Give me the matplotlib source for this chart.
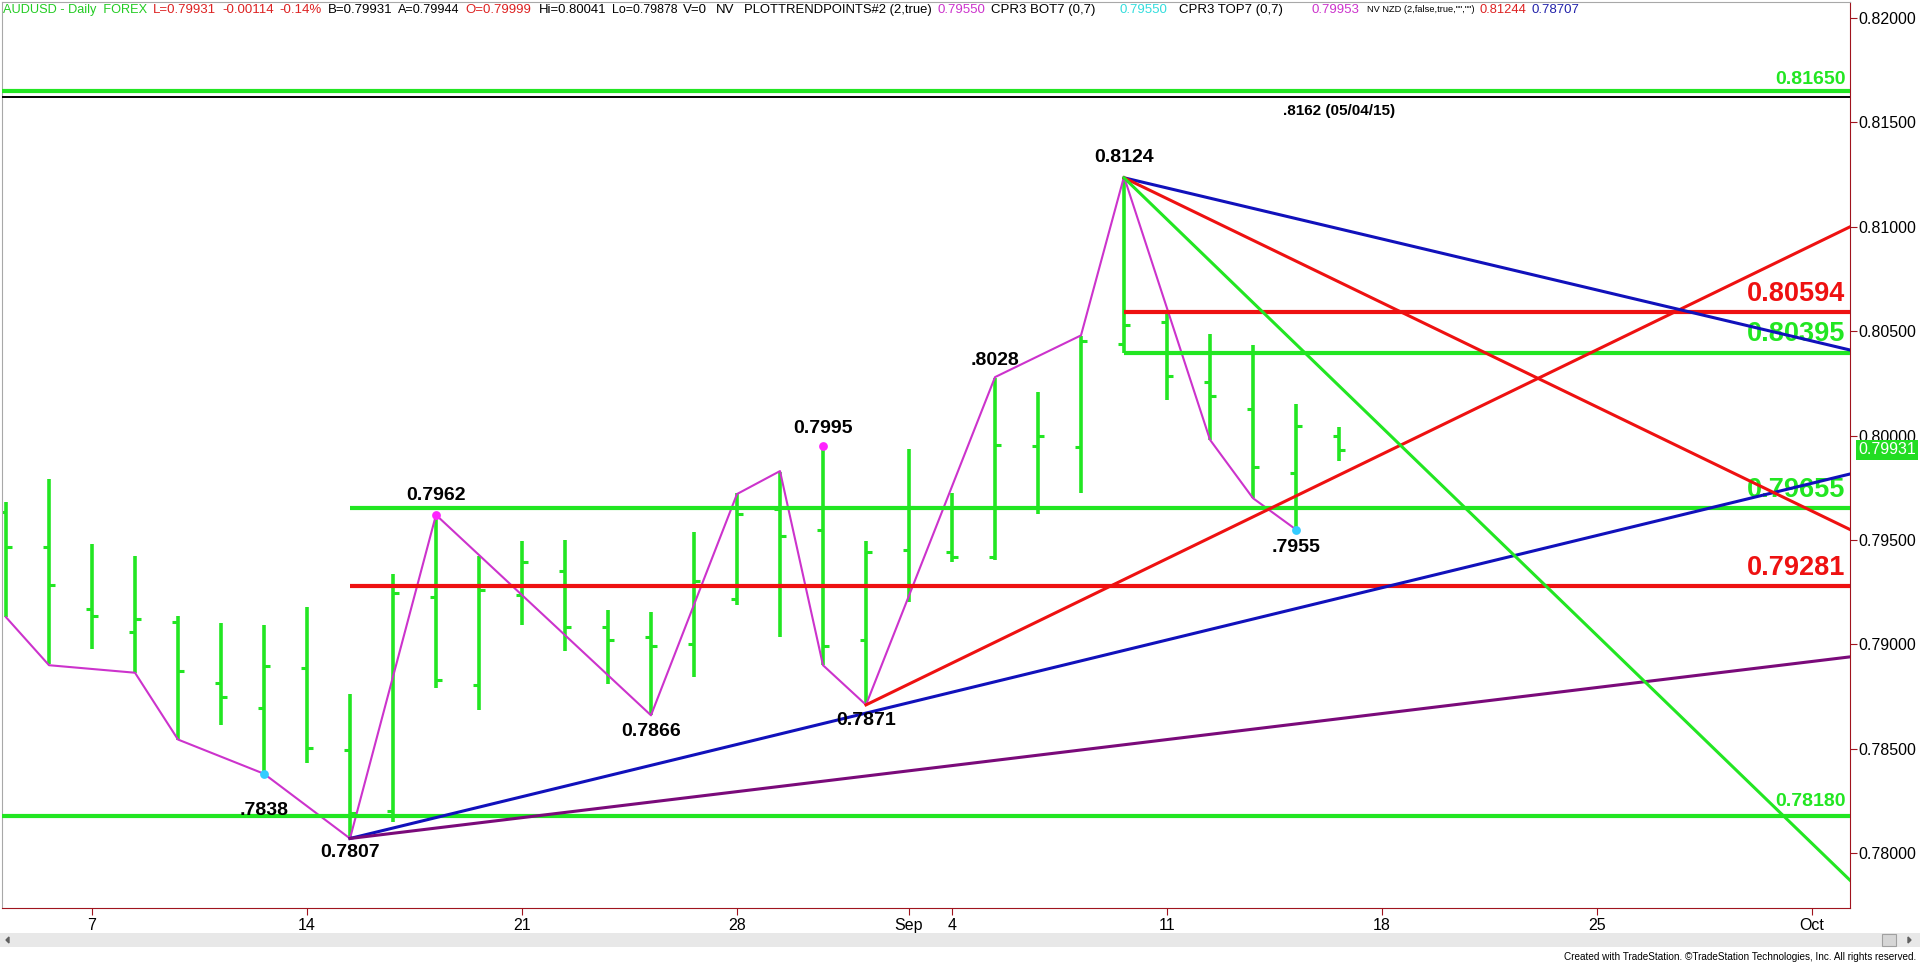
import matplotlib
matplotlib.use("Agg")
import matplotlib.pyplot as plt
from matplotlib.patches import Rectangle, Polygon

plt.rcParams['font.family'] = ['Liberation Sans', 'DejaVu Sans']
NARROW = ['Liberation Sans Narrow', 'Liberation Sans', 'DejaVu Sans']

W, H, DPI = 1920, 964, 100

# trading-day index, 0 = Mon Aug 7 2017
bar_x = list(range(-2, 30))
opens = [0.79635, 0.79467, 0.79167, 0.79059, 0.79107, 0.78817, 0.78693, 0.78885,
         0.78493, 0.78200, 0.79225, 0.78805, 0.79236, 0.79351, 0.79084, 0.79033,
         0.79004, 0.79217, 0.79650, 0.79550, 0.79020, 0.79451, 0.79440, 0.79420,
         0.79950, 0.79943, 0.80437, 0.80542, 0.80255, 0.80125, 0.79819, 0.79999]
highs = [0.79683, 0.79790, 0.79483, 0.79424, 0.79137, 0.79100, 0.79092, 0.79180,
         0.78760, 0.79335, 0.79616, 0.79423, 0.79496, 0.79499, 0.79164, 0.79156,
         0.79539, 0.79723, 0.79827, 0.79947, 0.79496, 0.79938, 0.79725, 0.80274,
         0.80207, 0.80477, 0.81235, 0.80590, 0.80485, 0.80433, 0.80151, 0.80041]
lows = [0.79132, 0.78904, 0.78977, 0.78864, 0.78544, 0.78616, 0.78385, 0.78430,
        0.78070, 0.78150, 0.78789, 0.78685, 0.79095, 0.78968, 0.78810, 0.78661,
        0.78845, 0.79188, 0.79036, 0.78900, 0.78709, 0.79204, 0.79395, 0.79404,
        0.79624, 0.79726, 0.80397, 0.80170, 0.79978, 0.79699, 0.79547, 0.79878]
closes = [0.79464, 0.79282, 0.79135, 0.79119, 0.78872, 0.78746, 0.78897, 0.78502,
          0.78190, 0.79244, 0.78829, 0.79260, 0.79394, 0.79084, 0.79019, 0.78993,
          0.79303, 0.79622, 0.79519, 0.78993, 0.79443, 0.79660, 0.79420, 0.79954,
          0.79998, 0.80453, 0.80528, 0.80287, 0.80189, 0.79848, 0.80046, 0.79931]

tick_pos = [0, 5, 10, 15, 19, 20, 25, 30, 35, 40]
tick_lab = ['7', '14', '21', '28', 'Sep', '4', '11', '18', '25', 'Oct']
price_ticks = [0.780, 0.785, 0.790, 0.795, 0.800, 0.805, 0.810, 0.815, 0.820]

swing_x = [-2, -1, 1, 2, 4, 6, 8, 13, 15, 16, 17, 18, 21, 23, 24, 26, 27, 28]
swing_y = [0.7913, 0.7890, 0.78864, 0.78544, 0.7838, 0.7807, 0.7962, 0.7866,
           0.7972, 0.7983, 0.7890, 0.7871, 0.8028, 0.8048, 0.8124, 0.7998,
           0.7970, 0.7955]

pivot_x = [24, 28.0, 8, 4, 6, 13, 18, 17, 21]
pivot_y = [0.8124, 0.7955, 0.7962, 0.7838, 0.7807, 0.7866, 0.7871, 0.7995, 0.8028]
pivot_txt = ['0.8124', '.7955', '0.7962', '.7838', '0.7807', '0.7866', '0.7871',
             '0.7995', '.8028']
pivot_dy = [19, -18, 19, -37, -14, -16, -16, 18, 17]

levels = [0.81650, 0.80594, 0.80395, 0.79655, 0.79281, 0.78180]
level_start = [-3, 24, 24, 6, 6, -3]
level_col = ['g', 'r', 'g', 'g', 'r', 'g']
level_big = [False, True, True, True, True, False]
level_dy = [12, 18, 19, 18, 18, 14]

old_high = 0.8162

XL, XR = -2.093, 40.884
YB, YT = 0.77737, 0.82077

trend_lines = [
    (6, 0.7807, XR, 0.79816, 'b'),
    (6, 0.7807, XR, 0.7894, 'p'),
    (18, 0.7871, XR, 0.8100, 'r'),
    (24, 0.81235, XR, 0.8041, 'b'),
    (24, 0.81235, XR, 0.7955, 'r'),
    (24, 0.81235, XR, 0.7787, 'g'),
]

header = [
    (3, 'AUDUSD - Daily  FOREX', '#22CC22'),
    (153, 'L=0.79931', '#DD2222'),
    (222, '-0.00114', '#DD2222'),
    (279, '-0.14%', '#DD2222'),
    (328, 'B=0.79931', 'black'),
    (398, 'A=0.79944', 'black'),
    (465, 'O=0.79999', '#DD2222'),
    (539, 'Hi=0.80041', 'black'),
    (612, 'Lo=0.79878', 'black'),
    (683, 'V=0', 'black'),
    (716, 'NV', 'black'),
    (744, 'PLOTTRENDPOINTS#2 (2,true)', 'black'),
    (937, '0.79550', '#CC33CC'),
    (991, 'CPR3 BOT7 (0,7)', 'black'),
    (1120, '0.79550', '#33DDDD'),
    (1179, 'CPR3 TOP7 (0,7)', 'black'),
    (1312, '0.79953', '#CC33CC'),
    (1367, 'NV NZD (2,false,true,"","")', 'black'),
    (1480, '0.81244', '#DD2222'),
    (1532, '0.78707', '#2222AA'),
]

COL = {'g': '#22E622', 'r': '#EE1111', 'b': '#1111BB', 'p': '#7A0A7A'}
ZIG = '#CC33CC'
AXC = '#A0141E'

fig = plt.figure(figsize=(W / DPI, H / DPI), dpi=DPI)
fig.patch.set_facecolor('white')


def fx(px):
    return px / W


def fy(py):
    return 1 - py / H


ax = fig.add_axes([fx(2), fy(908), (1850 - 2) / W, (908 - 2) / H])
ax.set_xlim(XL, XR)
ax.set_ylim(YB, YT)

# OHLC bars
ax.vlines(bar_x, lows, highs, color=COL['g'], lw=2.6, zorder=2)
ax.hlines(opens, [x - 0.14 for x in bar_x], bar_x, color=COL['g'], lw=2.2, zorder=2)
ax.hlines(closes, bar_x, [x + 0.14 for x in bar_x], color=COL['g'], lw=2.2, zorder=2)

# swing line
ax.plot(swing_x, swing_y, color=ZIG, lw=1.5, zorder=3)

# horizontal levels
for lv, st, c, big, dy in zip(levels, level_start, level_col, level_big, level_dy):
    ax.hlines(lv, st, XR, color=COL[c], lw=3.0, zorder=4)
    ax.annotate(f'{lv:.5f}', xy=(0.9975, lv), xycoords=ax.get_yaxis_transform(),
                xytext=(0, dy), textcoords='offset pixels', ha='right', va='center',
                color=COL[c], fontsize=19.5 if big else 14, fontweight='bold', zorder=4.5)

ax.hlines(old_high, XL, XR, color='black', lw=1.4, zorder=4)
ax.annotate('.8162 (05/04/15)', xy=(29.0, old_high), xytext=(0, -14),
            textcoords='offset pixels', ha='center', va='center', fontsize=11,
            fontweight='bold', family=NARROW, zorder=4.5)

# trend lines
for x0, y0, x1, y1, c in trend_lines:
    ax.plot([x0, x1], [y0, y1], color=COL[c], lw=2.2, zorder=5)

# pivot dots
ax.scatter([8, 17], [0.7962, 0.7995], s=40, color='#FF22FF', zorder=6, linewidths=0)
ax.scatter([4, 28], [0.7838, 0.7955], s=40, color='#33CCFF', zorder=6, linewidths=0)

for px_, py_, t, dy in zip(pivot_x, pivot_y, pivot_txt, pivot_dy):
    ax.annotate(t, xy=(px_, py_), xytext=(0, dy), textcoords='offset pixels',
                ha='center', va='center', fontsize=14, fontweight='bold',
                color='black', zorder=7)

# axes styling
for s in ['left', 'top']:
    ax.spines[s].set_color('#A8A8A8')
for s in ['right', 'bottom']:
    ax.spines[s].set_color(AXC)
ax.yaxis.tick_right()
ax.set_yticks(price_ticks)
ax.set_yticklabels([f'{p:.5f}' for p in price_ticks])
ax.set_xticks(tick_pos)
ax.set_xticklabels(tick_lab)
ax.tick_params(axis='y', direction='out', length=5, pad=1, color=AXC, labelsize=11.5)
ax.tick_params(axis='x', direction='out', length=5, pad=2, color=AXC, labelsize=11.5)
for lab in ax.get_xticklabels() + ax.get_yticklabels():
    lab.set_family(NARROW)

# last price box
ax.text(1.0045, closes[-1], f'{closes[-1]:.5f}', transform=ax.get_yaxis_transform(),
        ha='left', va='center', color='white', fontsize=11.5, family=NARROW,
        bbox=dict(facecolor='#22DD22', edgecolor='none', pad=1.5), clip_on=False)

# header: each piece starts where it does in the source, shrunk if it would run
# into the next one
renderer = fig.canvas.get_renderer()
for i, (x, t, c) in enumerate(header):
    txt = fig.text(fx(x), fy(10), t, color=c, fontsize=9.5, family=NARROW,
                   ha='left', va='center')
    nxt = header[i + 1][0] if i + 1 < len(header) else 1600
    room = nxt - x - 5
    w = txt.get_window_extent(renderer).width
    if w > room:
        txt.set_fontsize(9.5 * room / w)

# scroll bar
fig.patches.append(Rectangle((0, fy(947)), 1, 14 / H, transform=fig.transFigure,
                             facecolor='#E8E8E8', edgecolor='none'))
fig.patches.append(Rectangle((fx(1882), fy(946)), 14 / W, 12 / H, transform=fig.transFigure,
                             facecolor='#D6D6D6', edgecolor='#A0A0A0', lw=0.8))
fig.patches.append(Polygon([(fx(6), fy(940)), (fx(9), fy(937)), (fx(9), fy(943))],
                           closed=True, transform=fig.transFigure, color='#606060'))
fig.patches.append(Polygon([(fx(1911), fy(940)), (fx(1908), fy(937)), (fx(1908), fy(943))],
                           closed=True, transform=fig.transFigure, color='#606060'))

fig.text(fx(1916), fy(957), 'Created with TradeStation. \u00a9TradeStation Technologies, Inc. All rights reserved.',
         ha='right', va='center', fontsize=7.2, family=NARROW, color='black')

fig.savefig('out.png', dpi=DPI)
